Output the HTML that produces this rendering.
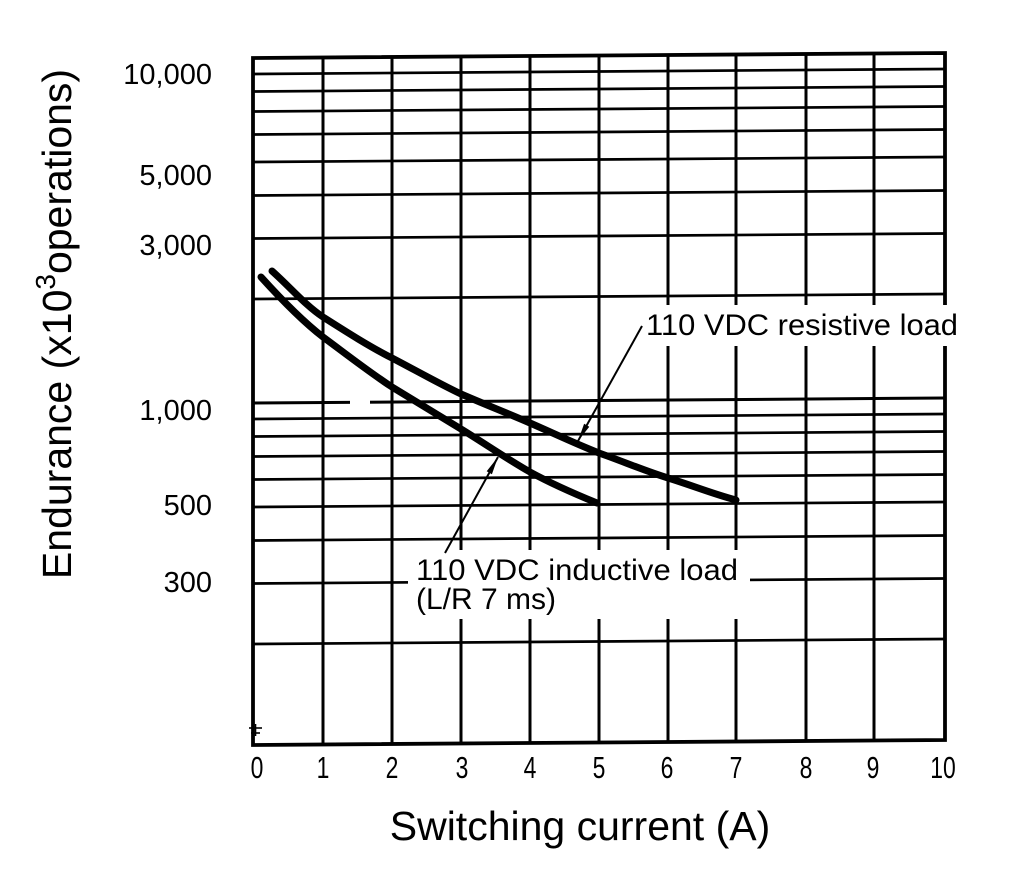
<!DOCTYPE html>
<html>
<head>
<meta charset="utf-8">
<style>
html,body{margin:0;padding:0;background:#fff;}
svg{display:block;}
text{font-family:"Liberation Sans",Arial,sans-serif;fill:#000;}
</style>
</head>
<body>
<svg width="1025" height="879" viewBox="0 0 1025 879" xmlns="http://www.w3.org/2000/svg">
<rect x="0" y="0" width="1025" height="879" fill="#fff"/>

<!-- horizontal grid lines (slight scan skew: right end 5px higher) -->
<g stroke="#000" stroke-width="2.7" fill="none">
  <line x1="253" y1="74" x2="945" y2="69"/>
  <line x1="253" y1="91.5" x2="945" y2="86.5"/>
  <line x1="253" y1="111.5" x2="945" y2="106.5"/>
  <line x1="253" y1="134.5" x2="945" y2="129.5"/>
  <line x1="253" y1="162" x2="945" y2="157"/>
  <line x1="253" y1="195.5" x2="945" y2="190.5"/>
  <line x1="253" y1="238.5" x2="945" y2="233.5"/>
  <line x1="253" y1="299" x2="945" y2="294"/>
  <line x1="253" y1="403" x2="945" y2="398" stroke-width="3"/>
  <line x1="253" y1="419" x2="945" y2="414"/>
  <line x1="253" y1="436.5" x2="945" y2="431.5"/>
  <line x1="253" y1="456.5" x2="945" y2="451.5"/>
  <line x1="253" y1="479.5" x2="945" y2="474.5"/>
  <line x1="253" y1="507" x2="945" y2="502"/>
  <line x1="253" y1="540.5" x2="945" y2="535.5"/>
  <line x1="253" y1="583.5" x2="945" y2="578.5"/>
  <line x1="253" y1="644" x2="945" y2="639"/>
</g>

<!-- vertical grid lines -->
<g stroke="#000" stroke-width="3" fill="none">
  <line x1="323" y1="57.5" x2="323" y2="744.5"/>
  <line x1="392" y1="57" x2="392" y2="744"/>
  <line x1="461" y1="56.5" x2="461" y2="743.5"/>
  <line x1="530" y1="56" x2="530" y2="743"/>
  <line x1="599" y1="55.5" x2="599" y2="742.5"/>
  <line x1="668" y1="55" x2="668" y2="742"/>
  <line x1="736" y1="54.5" x2="736" y2="741.5"/>
  <line x1="806" y1="54" x2="806" y2="741"/>
  <line x1="874" y1="53.5" x2="874" y2="740.5"/>
</g>

<!-- border -->
<polygon points="253,58 945,53 945,740 253,745" fill="none" stroke="#000" stroke-width="3.8"/>

<!-- small gap in 1000 line (scan artefact) -->
<rect x="350" y="398" width="20" height="9" fill="#fff"/>

<!-- small mark at lower-left -->
<g stroke="#000" stroke-width="1.6">
  <line x1="249" y1="728" x2="262" y2="728"/>
  <line x1="251" y1="733" x2="260" y2="733"/>
  <line x1="255.5" y1="724" x2="255.5" y2="736"/>
</g>

<!-- curves -->
<g fill="none" stroke="#000" stroke-width="7" stroke-linecap="round" stroke-linejoin="round">
  <path d="M272,271 C290,287 305,305 323,317 C345,331 370,347 392,358 C415,370 438,383 461,394 C484,404 507,413 530,423 C553,433 576,444 599,453 C622,461 645,471 668,478 C691,485 713,494 736,500"/>
  <path d="M261,277 C280,298 301,320 323,337 C346,354 369,372 392,387 C415,401 438,415 461,429 C484,443 507,459 530,472 C552,484 575,494 597,503"/>
</g>

<!-- white boxes behind annotations -->
<rect x="638" y="305" width="326" height="41" fill="#fff"/>
<rect x="408" y="550" width="342" height="69" fill="#fff"/>

<!-- leader lines -->
<g stroke="#000" stroke-width="2" fill="none">
  <line x1="642" y1="326" x2="578" y2="441"/>
  <line x1="445" y1="553" x2="498" y2="457"/>
</g>
<polygon points="578,441 589.3,426.8 584.1,423.8" fill="#000"/>
<polygon points="498,457 491.9,474.2 486.7,471.3" fill="#000"/>

<!-- annotations -->
<text x="646" y="335" font-size="30" textLength="312" lengthAdjust="spacingAndGlyphs">110 VDC resistive load</text>
<text x="416" y="580" font-size="30" textLength="322" lengthAdjust="spacingAndGlyphs">110 VDC inductive load</text>
<text x="416" y="609" font-size="30">(L/R 7 ms)</text>

<!-- y tick labels -->
<g font-size="29" text-anchor="end">
  <text x="212" y="84">10,000</text>
  <text x="212" y="185">5,000</text>
  <text x="212" y="255">3,000</text>
  <text x="212" y="420">1,000</text>
  <text x="212" y="515">500</text>
  <text x="212" y="592">300</text>
</g>

<!-- x tick labels (condensed) -->
<g font-size="31" text-anchor="middle">
  <text transform="translate(257,778) scale(0.74,1)">0</text>
  <text transform="translate(323,778) scale(0.74,1)">1</text>
  <text transform="translate(392,778) scale(0.74,1)">2</text>
  <text transform="translate(462,778) scale(0.74,1)">3</text>
  <text transform="translate(530,778) scale(0.74,1)">4</text>
  <text transform="translate(599,778) scale(0.74,1)">5</text>
  <text transform="translate(667,778) scale(0.74,1)">6</text>
  <text transform="translate(736,778) scale(0.74,1)">7</text>
  <text transform="translate(806,778) scale(0.74,1)">8</text>
  <text transform="translate(873,778) scale(0.74,1)">9</text>
  <text transform="translate(943,778) scale(0.74,1)">10</text>
</g>

<!-- axis titles -->
<text x="580" y="840" font-size="41" text-anchor="middle">Switching current (A)</text>
<text transform="translate(71,324) rotate(-90)" font-size="41" text-anchor="middle">Endurance (x10<tspan font-size="28" dy="-16">3</tspan><tspan dy="16">operations)</tspan></text>
</svg>
</body>
</html>
